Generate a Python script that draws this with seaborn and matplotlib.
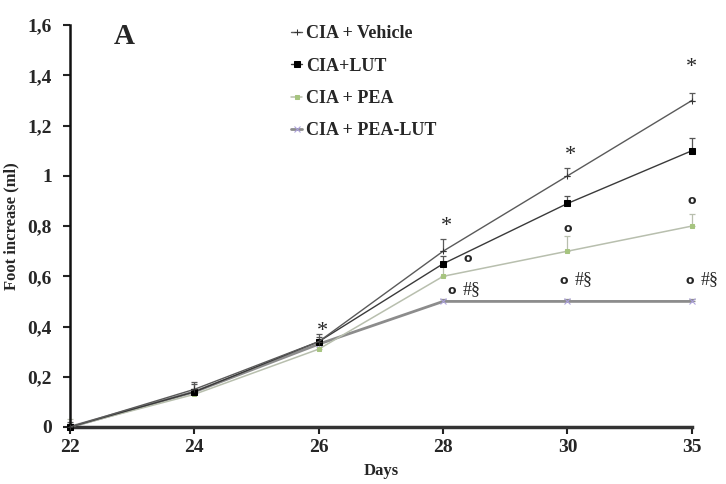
import numpy as np
import pandas as pd
import matplotlib
matplotlib.use("Agg")
import matplotlib.pyplot as plt
import seaborn as sns

days = ["22", "24", "26", "28", "30", "35"]
vehicle = [0.0, 0.15, 0.34, 0.70, 1.00, 1.30]
lut = [0.0, 0.14, 0.34, 0.65, 0.89, 1.10]
pea = [0.0, 0.13, 0.31, 0.60, 0.70, 0.80]
pea_lut = [0.0, 0.14, 0.33, 0.50, 0.50, 0.50]
err_vehicle = [0.02, 0.03, 0.03, 0.05, 0.03, 0.03]
err_lut = [0.01, 0.03, 0.02, 0.03, 0.03, 0.05]
err_pea = [0.03, 0.02, 0.02, 0.05, 0.06, 0.05]
err_pea_lut = [0.01, 0.01, 0.01, 0.01, 0.01, 0.01]
groups = ["CIA + Vehicle", "CIA+LUT", "CIA + PEA", "CIA + PEA-LUT"]

sns.set_theme(style="ticks")
plt.rcParams['font.family'] = ['Liberation Serif', 'DejaVu Serif']
plt.rcParams['font.weight'] = 'bold'

series = [vehicle, lut, pea, pea_lut]
errs = [err_vehicle, err_lut, err_pea, err_pea_lut]
x = np.arange(len(days))
df = pd.DataFrame({
    "x": np.tile(x, 4),
    "y": np.concatenate(series),
    "group": np.repeat(groups, len(days)),
})

line_colors = ["#5a5a5a", "#3a3a3a", "#b8bfae", "#8c8c8c"]
marker_colors = ["#333333", "#000000", "#a6c47f", "#ab9fdc"]
markers = ["+", "s", "s", "x"]
msizes = [5, 4.5, 2.5, 4]
lws = [1.0, 1.0, 1.1, 2.0]

fig = plt.figure(figsize=(7.26, 4.84), dpi=100)
ax = fig.add_axes([0.0964, 0.1178, 0.8566, 0.8302])

for i, g in enumerate(groups):
    sub = df[df.group == g]
    sns.lineplot(data=sub, x="x", y="y", ax=ax, color=line_colors[i],
                 linewidth=lws[i], marker=markers[i],
                 markersize=msizes[i], markerfacecolor=marker_colors[i],
                 markeredgecolor=marker_colors[i], label=g, legend=False,
                 clip_on=False, zorder=3 - i * 0.1 if i != 3 else 2.5)
    eb = ax.errorbar(x, series[i], yerr=[np.zeros(len(x)), errs[i]], fmt="none",
                     ecolor=line_colors[i] if i != 1 else "#555555",
                     elinewidth=0.9, capsize=2.0, capthick=0.9, zorder=2)
    for art in eb.lines[1] + eb.lines[2]:
        art.set_clip_on(False)

ax.set_xlim(0, 5)
ax.set_ylim(0, 1.6)
ax.set_xticks(x)
ax.set_xticklabels(days)
yt = np.arange(0, 1.61, 0.2)
ax.set_yticks(yt)
ax.set_yticklabels(["0", "0,2", "0,4", "0,6", "0,8", "1", "1,2", "1,4", "1,6"])
ax.tick_params(axis="both", labelsize=14, length=5, width=1.5, color="#222222")
ax.tick_params(axis="y", pad=8)
for lab in ax.get_xticklabels() + ax.get_yticklabels():
    lab.set_fontweight("bold")
sns.despine(ax=ax)
ax.spines["left"].set_linewidth(1.8)
ax.spines["left"].set_color("#111111")
ax.spines["bottom"].set_linewidth(2.5)
ax.spines["bottom"].set_color("#333333")

ax.set_xlabel("Days", fontsize=12, fontweight="bold", labelpad=5)
ax.set_ylabel("Foot increase (ml)", fontsize=12, fontweight="bold", labelpad=6)

ax.text(0.35, 1.555, "A", fontsize=21, fontweight="bold", va="center", ha="left")

# significance marks
for xi, yi in [(2.03, 0.38), (3.03, 0.80), (4.02, 1.08), (5.0, 1.43)]:
    ax.text(xi, yi, "*", fontsize=16, ha="center", va="center",
            fontweight="normal")
for xi, yi in [(3.2, 0.67), (4.0, 0.79), (5.0, 0.90)]:
    ax.text(xi, yi, "o", fontsize=9, ha="center", va="center",
            family="DejaVu Sans", fontweight="bold")
for xi, yi in [(3.07, 0.545), (3.97, 0.585), (4.98, 0.585)]:
    ax.text(xi, yi, "o", fontsize=9, ha="center", va="center",
            family="DejaVu Sans", fontweight="bold")
    ax.text(xi + 0.09, yi, "#§", fontsize=13, ha="left", va="center",
            fontweight="normal")

handles, labels = ax.get_legend_handles_labels()
leg = ax.legend(handles, labels, loc="upper left", bbox_to_anchor=(0.33, 1.04),
                frameon=False, handlelength=0.6, handletextpad=0.2,
                labelspacing=0.85, prop={"weight": "bold", "size": 13})

fig.savefig("out.png", dpi=100)
